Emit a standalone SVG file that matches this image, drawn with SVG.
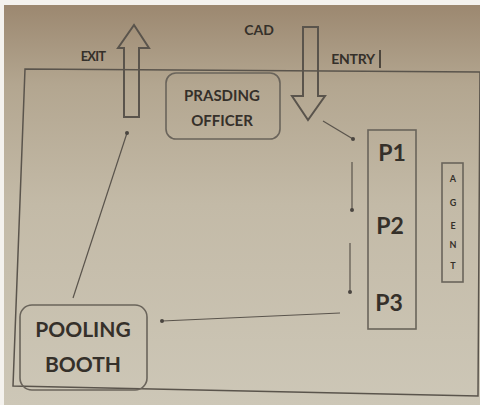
<svg xmlns="http://www.w3.org/2000/svg" width="480" height="405" viewBox="0 0 480 405">
<defs>
<linearGradient id="bg" x1="0" y1="0" x2="0" y2="1">
<stop offset="0" stop-color="#9c8870"/>
<stop offset="0.2" stop-color="#b3a690"/>
<stop offset="0.5" stop-color="#c3baa7"/>
<stop offset="1" stop-color="#cdc7b7"/>
</linearGradient>
<marker id="dot" viewBox="0 0 6 6" refX="3" refY="3" markerWidth="4" markerHeight="4" markerUnits="userSpaceOnUse">
<circle cx="3" cy="3" r="3" fill="#4a4540"/>
</marker>
</defs>
<style>
.ln{fill:none;stroke:#5a544c;stroke-width:1.5}
.box{fill:none;stroke:#6a645b;stroke-width:1.6}
.arr{fill:none;stroke:#5a544c;stroke-width:2}
.con{fill:none;stroke:#5a544c;stroke-width:1.2;marker-end:url(#dot)}
.t{font-family:Lato,"Open Sans",sans-serif;fill:#35302a;text-anchor:middle;font-weight:bold}
</style>
<rect width="480" height="405" fill="#f4f2ee"/>
<rect x="4" y="5" width="476" height="400" fill="url(#bg)"/>
<polygon class="ln" points="25,69 480,72 478,396 13,386"/>
<line x1="380" y1="50" x2="380" y2="68" stroke="#35302a" stroke-width="1.6"/>
<text class="t" x="93" y="61" font-size="13" letter-spacing="-0.8">EXIT</text>
<text class="t" x="259" y="35" font-size="14">CAD</text>
<text class="t" x="353" y="64" font-size="14" letter-spacing="-0.3">ENTRY</text>
<g id="exit-arrow">
<polygon class="arr" points="124,117 124,48 118,48 134,25 149,48 139,48 139,117"/>
</g>
<g id="entry-arrow">
<polygon class="arr" points="303,27 318,27 318,96 325,96 308,120 292,96 303,96"/>
</g>
<g id="presiding-officer">
<rect class="box" x="166" y="73" width="114" height="66" rx="10"/>
<text class="t" x="222" y="101" font-size="15">PRASDING</text>
<text class="t" x="222" y="126" font-size="15">OFFICER</text>
</g>
<g id="p-box">
<rect class="box" x="368" y="130" width="48" height="199"/>
<text class="t" x="392" y="161" font-size="23">P1</text>
<text class="t" x="390" y="234" font-size="23">P2</text>
<text class="t" x="389" y="311" font-size="23">P3</text>
</g>
<g id="agent">
<rect class="box" x="442" y="163" width="21" height="119"/>
<text class="t" x="453" y="182" font-size="9">A</text>
<text class="t" x="453" y="206" font-size="9">G</text>
<text class="t" x="453" y="229" font-size="9">E</text>
<text class="t" x="453" y="248" font-size="9">N</text>
<text class="t" x="453" y="269" font-size="9">T</text>
</g>
<g id="polling-booth">
<rect class="box" x="20" y="305" width="127" height="85" rx="12"/>
<text class="t" x="83" y="337" font-size="21">POOLING</text>
<text class="t" x="83" y="372" font-size="21">BOOTH</text>
</g>
<g id="connectors">
<line class="con" x1="323" y1="121" x2="353" y2="139"/>
<line class="con" x1="352" y1="162" x2="352" y2="210"/>
<line class="con" x1="350" y1="243" x2="350" y2="292"/>
<line class="con" x1="340" y1="313" x2="162" y2="321"/>
<line class="con" x1="73" y1="298" x2="127" y2="133"/>
</g>
</svg>
